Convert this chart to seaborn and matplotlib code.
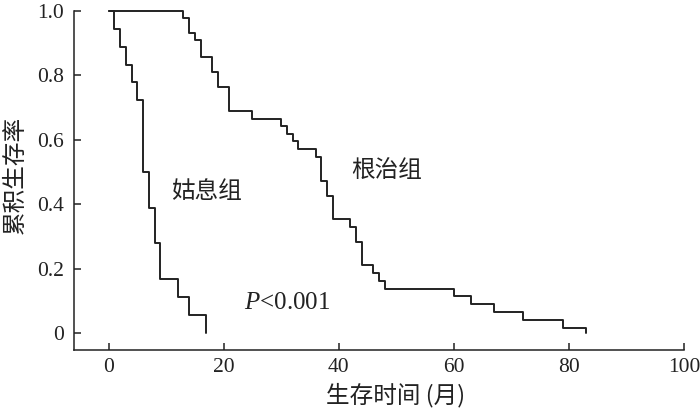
import matplotlib
matplotlib.use("Agg")
import matplotlib.pyplot as plt
import seaborn as sns
import pandas as pd

# Palliative group (姑息组)
times_pall = [0, 1, 2, 3, 4, 5, 6, 7, 8, 9, 12, 14, 17]
surv_pall = [1.0, 0.944, 0.889, 0.833, 0.778, 0.722, 0.5, 0.389, 0.278, 0.167, 0.111, 0.056, 0.0]

# Radical group (根治组)
times_rad = [0, 13, 14, 15, 16, 18, 19, 21, 25, 30, 31, 32, 33, 36, 37, 38, 39,
             42, 43, 44, 46, 47, 48, 60, 63, 67, 72, 79, 83]
surv_rad = [1.0, 0.978, 0.932, 0.909, 0.858, 0.810, 0.764, 0.690, 0.665, 0.643, 0.619,
            0.597, 0.572, 0.548, 0.473, 0.426, 0.353, 0.330, 0.282, 0.211, 0.186,
            0.160, 0.137, 0.115, 0.091, 0.064, 0.041, 0.016, 0.0]

group_names = ["姑息组", "根治组"]
x_ticks = [0, 20, 40, 60, 80, 100]
y_ticks = [0, 0.2, 0.4, 0.6, 0.8, 1.0]
y_tick_labels = ["0", "0.2", "0.4", "0.6", "0.8", "1.0"]
x_label = "生存时间 (月)"
y_label = "累积生存率"
p_text = r"$P$<0.001"

sns.set_style("ticks")
plt.rcParams["font.family"] = ["Liberation Serif", "Noto Sans CJK SC"]
plt.rcParams["mathtext.fontset"] = "custom"
plt.rcParams["mathtext.it"] = "Liberation Serif:italic"
plt.rcParams["mathtext.rm"] = "Liberation Serif"

df = pd.concat([
    pd.DataFrame({"time": times_pall, "surv": surv_pall, "group": group_names[0]}),
    pd.DataFrame({"time": times_rad, "surv": surv_rad, "group": group_names[1]}),
])

fig = plt.figure(figsize=(7, 4.15), dpi=100)
top_px, bot_px, left_px, right_px = 11, 350, 74, 684
ax = fig.add_axes([left_px/700, 1-bot_px/415, (right_px-left_px)/700, (bot_px-top_px)/415])

sns.lineplot(data=df, x="time", y="surv", hue="group", palette=["#222222", "#222222"],
             estimator=None, sort=False, drawstyle="steps-post", linewidth=1.4,
             legend=False, ax=ax, clip_on=False)

ax.set_xlim(-6, 100)
ax.set_ylim(-0.053, 1.0)
ax.set_xticks(x_ticks)
ax.set_xticklabels([str(t) for t in x_ticks])
ax.set_yticks(y_ticks)
ax.set_yticklabels(y_tick_labels)
ax.tick_params(direction="in", length=5, width=1.1, labelsize=15.5, colors="#222222")
ax.tick_params(axis="y", pad=7)
ax.tick_params(axis="x", pad=6)
for s in ["top", "right"]:
    ax.spines[s].set_visible(False)
for s in ["left", "bottom"]:
    ax.spines[s].set_linewidth(1.1)
    ax.spines[s].set_color("#222222")
ax.set_xlabel("")
ax.set_ylabel("")

cjk = ["Noto Sans CJK SC", "Liberation Serif"]
ax.text(10.9, 0.44, group_names[0], fontsize=17, family=cjk, va="center", ha="left", color="#222222")
ax.text(42.1, 0.505, group_names[1], fontsize=17, family=cjk, va="center", ha="left", color="#222222")
ax.text(23.5, 0.094, p_text, fontsize=18, family=["Liberation Serif"], va="center", ha="left", color="#222222")

fig.text(396/700, 1-395/415, x_label, fontsize=17, family=["Noto Sans CJK SC", "Liberation Serif"],
         ha="center", va="center", color="#222222")
fig.text(15/700, 1-175/415, y_label, fontsize=17, family=["Noto Sans CJK SC"],
         rotation=90, ha="center", va="center", color="#222222")

fig.savefig("out.png", dpi=100)
